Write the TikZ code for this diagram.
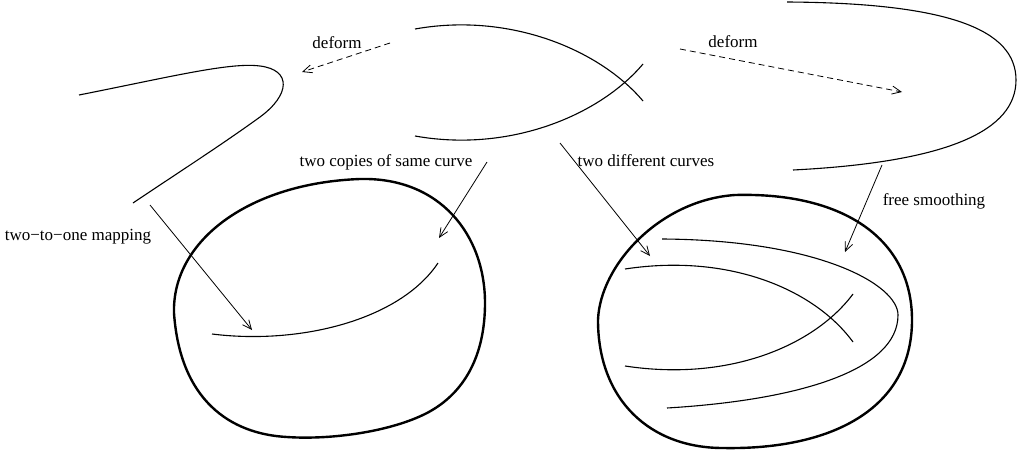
\documentclass[tikz,border=0pt]{standalone}
\usepackage{fontspec}
\setmainfont{Liberation Serif}
\usetikzlibrary{arrows.meta}
\tikzset{
  thincurve/.style={line width=1.1pt},
  blob/.style={line width=2.4pt},
  pointer/.style={line width=0.8pt,-{Straight Barb[length=9pt,width=8pt]}},
  deformarrow/.style={pointer,dash pattern=on 6pt off 4pt},
  lbl/.style={anchor=base,inner sep=0pt,font=\fontsize{17}{20}\selectfont},
}
\begin{document}
\begin{tikzpicture}[x=1pt,y=-1pt]
\useasboundingbox (0,0) rectangle (1018,453);

% top left curve
\draw[thincurve] (79,95) .. controls (170,77) and (230,62) .. (260,66)
  .. controls (292,70) and (290,95) .. (260,117)
  .. controls (220,146) and (170,178) .. (133,203);

% top middle fish
\draw[thincurve] (415,29) .. controls (510,12) and (600,50) .. (643,101);
\draw[thincurve] (415,136) .. controls (510,153) and (600,115) .. (643,64);

% top right curve
\draw[thincurve] (787,2) .. controls (950,3) and (1016,30) .. (1016,80)
  .. controls (1016,130) and (950,162) .. (793,170);

% left blob
\draw[blob] (360,179) .. controls (440,177) and (485,235) .. (485,303)
  .. controls (485,355) and (465,393) .. (427,413)
  .. controls (390,432) and (330,440) .. (287,437)
  .. controls (230,434) and (180,400) .. (174,313)
  .. controls (172,240) and (250,183) .. (360,179) -- cycle;
\draw[thincurve] (212,334) .. controls (300,345) and (400,320) .. (438,263);

% right blob
\draw[blob] (735,195) .. controls (845,192) and (912,240) .. (912,320)
  .. controls (912,410) and (830,450) .. (723,448)
  .. controls (650,448) and (598,400) .. (598,320)
  .. controls (600,265) and (660,200) .. (735,195) -- cycle;
\draw[thincurve] (662,239) .. controls (820,240) and (898,285) .. (898,315)
  .. controls (898,370) and (800,400) .. (667,408);
\draw[thincurve] (625,269) .. controls (730,253) and (815,290) .. (853,342);
\draw[thincurve] (625,366) .. controls (730,382) and (815,345) .. (853,294);

% labels
\node[lbl] (deformL) at (337,48) {deform};
\node[lbl] (deformR) at (733,47) {deform};
\node[lbl] (copies) at (386,166) {two copies of same curve};
\node[lbl] (different) at (646,166) {two different curves};
\node[lbl] (twotoone) at (78,240) {two−to−one mapping};
\node[lbl] (smoothing) at (934,205) {free smoothing};

% arrow end points
\coordinate (dLs) at (390,43);  \coordinate (dLe) at (302,72);
\coordinate (dRs) at (680,49);  \coordinate (dRe) at (902,92);
\coordinate (a1s) at (150,205); \coordinate (a1e) at (252,330);
\coordinate (a2s) at (487,162); \coordinate (a2e) at (439,238);
\coordinate (a3s) at (560,143); \coordinate (a3e) at (650,256);
\coordinate (a4s) at (882,165); \coordinate (a4e) at (845,252);

\draw[deformarrow] (dLs) -- (dLe);
\draw[deformarrow] (dRs) -- (dRe);
\draw[pointer] (a1s) -- (a1e);
\draw[pointer] (a2s) -- (a2e);
\draw[pointer] (a3s) -- (a3e);
\draw[pointer] (a4s) -- (a4e);
\end{tikzpicture}
\end{document}
